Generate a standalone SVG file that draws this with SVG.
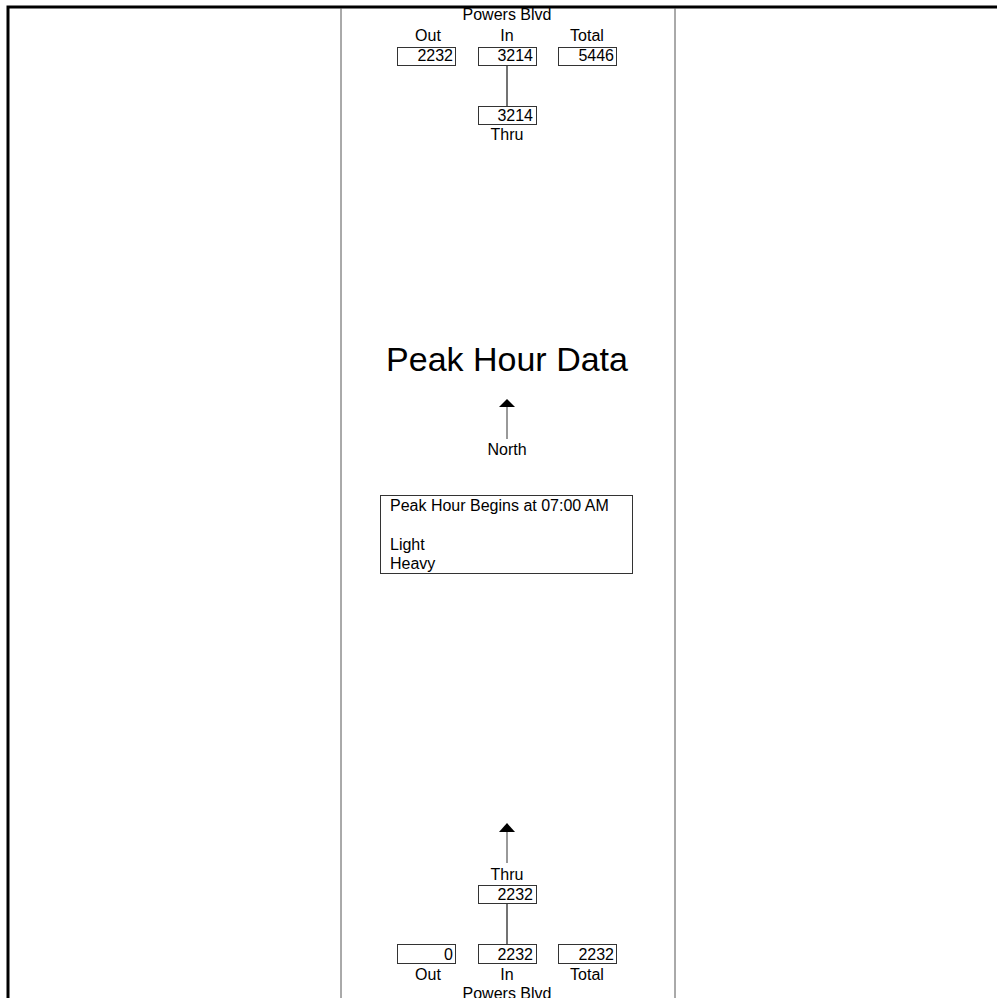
<svg xmlns="http://www.w3.org/2000/svg" width="997" height="998" viewBox="0 0 997 998">
<style>
text{font-family:"Liberation Sans",Arial,sans-serif;font-size:16px;fill:#000}
.c{text-anchor:middle}
.r{text-anchor:end}
.box{fill:#fff;stroke:#333;stroke-width:1}
.link{stroke:#444;stroke-width:1.5}
.arr{stroke:#777;stroke-width:1.5}
.frame{stroke:#000;stroke-width:3;fill:none}
.div{stroke:#555;stroke-width:1}
</style>
<defs>
<marker id="ah" viewBox="0 0 16 9" refX="8" refY="0" markerWidth="16" markerHeight="9" markerUnits="userSpaceOnUse" orient="auto-start-reverse">
<path d="M0,9 L8,0 L16,9 Z" fill="#000"/>
</marker>
</defs>
<g id="frame">
<path class="frame" d="M8,998 V7 H997"/>
<line class="div" x1="341" y1="8" x2="341" y2="998"/>
<line class="div" x1="675" y1="8" x2="675" y2="998"/>
</g>
<g id="connectors">
<line class="link" x1="507" y1="66" x2="507" y2="106"/>
<line class="link" x1="507" y1="904" x2="507" y2="944"/>
<line class="arr" x1="507" y1="863" x2="507" y2="832"/>
<path d="M499,832 L507,823 L515,832 Z" fill="#000"/>
<line class="arr" x1="507" y1="439" x2="507" y2="407"/>
<path d="M499,407 L507,399 L515,407 Z" fill="#000"/>
</g>
<g id="north-street">
<text class="c" x="507" y="20">Powers Blvd</text>
<text class="c" x="428" y="41">Out</text>
<text class="c" x="507" y="41">In</text>
<text class="c" x="587" y="41">Total</text>
</g>
<g id="north-out"><rect class="box" x="397.5" y="47.5" width="58" height="18"/><text class="r" x="453" y="61">2232</text></g>
<g id="north-in"><rect class="box" x="478.5" y="47.5" width="58" height="18"/><text class="r" x="533" y="61">3214</text></g>
<g id="north-total"><rect class="box" x="558.5" y="47.5" width="58" height="18"/><text class="r" x="614" y="61">5446</text></g>
<g id="north-thru"><rect class="box" x="478.5" y="106.5" width="58" height="18"/><text class="r" x="533" y="121">3214</text><text class="c" x="507" y="140">Thru</text></g>
<g id="title"><text class="c" x="507" y="371" style="font-size:34px">Peak Hour Data</text></g>
<g id="north-label"><text class="c" x="507" y="455">North</text></g>
<g id="legend">
<rect class="box" x="380.5" y="495.5" width="252" height="78"/>
<text x="390" y="511">Peak Hour Begins at 07:00 AM</text>
<text x="390" y="550">Light</text>
<text x="390" y="569">Heavy</text>
</g>
<g id="south-thru"><text class="c" x="507" y="880">Thru</text><rect class="box" x="478.5" y="885.5" width="58" height="18"/><text class="r" x="533" y="900">2232</text></g>
<g id="south-out"><rect class="box" x="397.5" y="944.5" width="58" height="19"/><text class="r" x="453" y="960">0</text></g>
<g id="south-in"><rect class="box" x="478.5" y="944.5" width="58" height="19"/><text class="r" x="533" y="960">2232</text></g>
<g id="south-total"><rect class="box" x="558.5" y="944.5" width="58" height="19"/><text class="r" x="614" y="960">2232</text></g>
<g id="south-street">
<text class="c" x="428" y="980">Out</text>
<text class="c" x="507" y="980">In</text>
<text class="c" x="587" y="980">Total</text>
<text class="c" x="507" y="999">Powers Blvd</text>
</g>
</svg>
